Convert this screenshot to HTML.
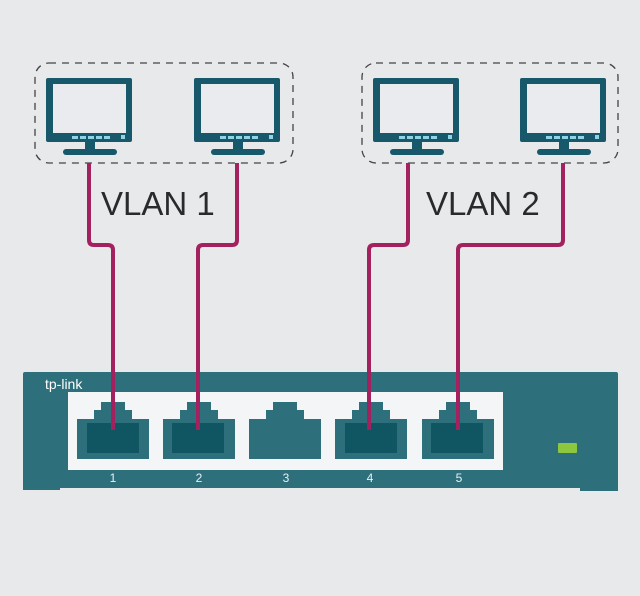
<!DOCTYPE html>
<html><head><style>
html,body{margin:0;padding:0;background:#e8e9eb;}
svg{display:block}
</style></head><body>
<svg width="640" height="596" viewBox="0 0 640 596" xmlns="http://www.w3.org/2000/svg">
<rect width="640" height="596" fill="#e8e9eb"/>
<defs>
<g id="mon">
  <rect x="0" y="0" width="86" height="64" rx="2" fill="#17586a"/>
  <rect x="7" y="6" width="73" height="49" fill="#e9ebee"/>
  <rect x="26" y="58" width="6" height="3" fill="#8fd3e6"/>
  <rect x="34" y="58" width="6" height="3" fill="#8fd3e6"/>
  <rect x="42" y="58" width="6" height="3" fill="#8fd3e6"/>
  <rect x="50" y="58" width="6" height="3" fill="#8fd3e6"/>
  <rect x="58" y="58" width="6" height="3" fill="#8fd3e6"/>
  <rect x="75" y="57" width="4" height="4" fill="#8fd3e6"/>
  <rect x="39" y="64" width="10" height="8" fill="#17586a"/>
  <rect x="17" y="71" width="54" height="6" rx="3" fill="#17586a"/>
</g>
<g id="port">
  <rect x="24" y="0" width="24" height="9" fill="#2e6f7c"/>
  <rect x="17" y="8" width="38" height="10" fill="#2e6f7c"/>
  <rect x="0" y="17" width="72" height="40" fill="#2e6f7c"/>
</g>
</defs>
<rect x="35" y="63" width="258" height="100" rx="14" fill="none" stroke="#444" stroke-width="1.3" stroke-dasharray="7,6"/>
<rect x="362" y="63" width="256" height="100" rx="14" fill="none" stroke="#444" stroke-width="1.3" stroke-dasharray="7,6"/>
<use href="#mon" x="46" y="78"/>
<use href="#mon" x="194" y="78"/>
<use href="#mon" x="373" y="78"/>
<use href="#mon" x="520" y="78"/>
<text x="101" y="215" font-family="Liberation Sans, sans-serif" font-size="33" fill="#2a2a2a">VLAN 1</text>
<text x="426" y="215" font-family="Liberation Sans, sans-serif" font-size="33" fill="#2a2a2a">VLAN 2</text>
<!-- switch -->
<rect x="23" y="372" width="595" height="116" rx="2" fill="#2e6f7c"/>
<rect x="23" y="480" width="37" height="10" fill="#2e6f7c"/>
<rect x="580" y="480" width="38" height="11" fill="#2e6f7c"/>
<text x="45" y="389" font-family="Liberation Sans, sans-serif" font-size="14" fill="#fff">tp-link</text>
<rect x="68" y="392" width="435" height="78" fill="#f4f5f6"/>
<use href="#port" x="77" y="402"/>
<use href="#port" x="163" y="402"/>
<use href="#port" x="249" y="402"/>
<use href="#port" x="335" y="402"/>
<use href="#port" x="422" y="402"/>
<rect x="87" y="423" width="52" height="30" fill="#0f5562"/>
<rect x="172" y="423" width="52" height="30" fill="#0f5562"/>
<rect x="345" y="423" width="52" height="30" fill="#0f5562"/>
<rect x="431" y="423" width="52" height="30" fill="#0f5562"/>
<g font-family="Liberation Sans, sans-serif" font-size="12" fill="#e8f0f2" text-anchor="middle">
<text x="113" y="482">1</text><text x="199" y="482">2</text><text x="286" y="482">3</text><text x="370" y="482">4</text><text x="459" y="482">5</text>
</g>
<rect x="558" y="443" width="19" height="10" rx="1" fill="#8dc63f"/>
<!-- cables -->
<g fill="none" stroke="#a3215f" stroke-width="4" stroke-linejoin="round">
<path d="M89 163 V240 Q89 245 94 245 H108 Q113 245 113 250 V430"/>
<path d="M237 163 V240 Q237 245 232 245 H203 Q198 245 198 250 V430"/>
<path d="M408 163 V240 Q408 245 403 245 H374 Q369 245 369 250 V430"/>
<path d="M563 163 V240 Q563 245 558 245 H463 Q458 245 458 250 V430"/>
</g>
</svg>
</body></html>
